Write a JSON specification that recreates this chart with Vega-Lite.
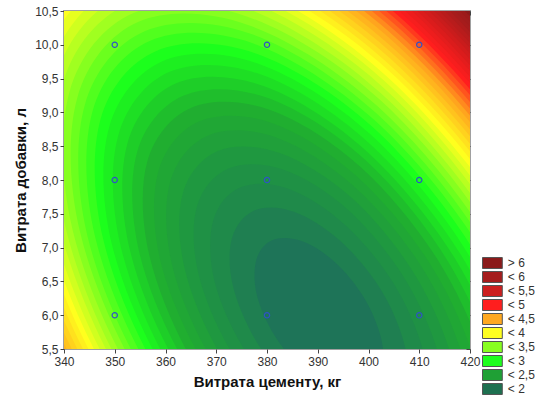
{
"$schema": "https://vega.github.io/schema/vega-lite/v6.json",
"width": 406, "height": 338,
"autosize": {"type": "none"},
"padding": {"left": 64, "top": 11, "right": 68, "bottom": 49},
"background": "white",
"config": {
 "view": {"stroke": "#a0a0a0", "strokeWidth": 2},
 "font": "Liberation Sans",
 "axis": {"grid": false, "domain": false, "tickColor": "#444", "tickSize": 4, "labelFontSize": 12, "labelColor": "#333", "labelFont": "Liberation Sans", "titleFont": "Liberation Sans", "titleFontSize": 15, "titleFontWeight": "bold", "titleColor": "#111", "labelFlush": false, "labelOverlap": false},
 "legend": {"orient": "none", "legendX": 422.4, "legendY": 246, "symbolType": "M-1.8,-1H1.8V1H-1.8Z", "symbolSize": 121, "symbolStrokeColor": "#555", "symbolStrokeWidth": 1, "labelFontSize": 12, "labelColor": "#333", "labelFont": "Liberation Sans", "labelOffset": 9.4, "rowPadding": -2.8, "symbolOpacity": 1}
},
"datasets": {
 "bg": [{"band": "> 6"}],
 "pts": [{"x":350,"y":6},{"x":350,"y":8},{"x":350,"y":10},{"x":380,"y":6},{"x":380,"y":8},{"x":380,"y":10},{"x":410,"y":6},{"x":410,"y":8},{"x":410,"y":10}],
 "poly": [
{"lo":6.2,"x":447.0,"y":7.78},{"lo":6.2,"x":409.6,"y":11.19},{"lo":6.2,"x":367.1,"y":13.20},{"lo":6.2,"x":330.8,"y":13.28},{"lo":6.2,"x":310.4,"y":11.40},{"lo":6.2,"x":311.4,"y":8.06},{"lo":6.2,"x":333.5,"y":4.17},{"lo":6.2,"x":370.9,"y":0.76},{"lo":6.2,"x":413.4,"y":-1.25},{"lo":6.2,"x":449.7,"y":-1.32},{"lo":6.2,"x":470.1,"y":0.56},{"lo":6.2,"x":469.1,"y":3.89},
{"lo":6.1,"x":446.4,"y":7.76},{"lo":6.1,"x":409.4,"y":11.13},{"lo":6.1,"x":367.4,"y":13.12},{"lo":6.1,"x":331.4,"y":13.20},{"lo":6.1,"x":311.3,"y":11.34},{"lo":6.1,"x":312.3,"y":8.04},{"lo":6.1,"x":334.2,"y":4.19},{"lo":6.1,"x":371.1,"y":0.82},{"lo":6.1,"x":413.1,"y":-1.17},{"lo":6.1,"x":449.1,"y":-1.24},{"lo":6.1,"x":469.2,"y":0.62},{"lo":6.1,"x":468.2,"y":3.91},
{"lo":6.0,"x":445.7,"y":7.74},{"lo":6.0,"x":409.2,"y":11.07},{"lo":6.0,"x":367.6,"y":13.04},{"lo":6.0,"x":332.1,"y":13.11},{"lo":6.0,"x":312.2,"y":11.28},{"lo":6.0,"x":313.2,"y":8.02},{"lo":6.0,"x":334.8,"y":4.21},{"lo":6.0,"x":371.3,"y":0.88},{"lo":6.0,"x":412.9,"y":-1.08},{"lo":6.0,"x":448.4,"y":-1.16},{"lo":6.0,"x":468.3,"y":0.68},{"lo":6.0,"x":467.4,"y":3.94},
{"lo":5.9,"x":445.1,"y":7.72},{"lo":5.9,"x":409.0,"y":11.01},{"lo":5.9,"x":367.9,"y":12.96},{"lo":5.9,"x":332.8,"y":13.03},{"lo":5.9,"x":313.1,"y":11.21},{"lo":5.9,"x":314.1,"y":7.99},{"lo":5.9,"x":335.5,"y":4.23},{"lo":5.9,"x":371.5,"y":0.94},{"lo":5.9,"x":412.6,"y":-1.00},{"lo":5.9,"x":447.7,"y":-1.07},{"lo":5.9,"x":467.4,"y":0.74},{"lo":5.9,"x":466.5,"y":3.96},
{"lo":5.8,"x":444.4,"y":7.70},{"lo":5.8,"x":408.8,"y":10.95},{"lo":5.8,"x":368.2,"y":12.87},{"lo":5.8,"x":333.5,"y":12.95},{"lo":5.8,"x":314.0,"y":11.15},{"lo":5.8,"x":315.0,"y":7.97},{"lo":5.8,"x":336.1,"y":4.25},{"lo":5.8,"x":371.7,"y":1.00},{"lo":5.8,"x":412.4,"y":-0.92},{"lo":5.8,"x":447.0,"y":-0.99},{"lo":5.8,"x":466.5,"y":0.81},{"lo":5.8,"x":465.5,"y":3.99},
{"lo":5.7,"x":443.7,"y":7.68},{"lo":5.7,"x":408.5,"y":10.89},{"lo":5.7,"x":368.4,"y":12.79},{"lo":5.7,"x":334.2,"y":12.86},{"lo":5.7,"x":314.9,"y":11.09},{"lo":5.7,"x":315.9,"y":7.95},{"lo":5.7,"x":336.8,"y":4.28},{"lo":5.7,"x":372.0,"y":1.06},{"lo":5.7,"x":412.1,"y":-0.83},{"lo":5.7,"x":446.3,"y":-0.90},{"lo":5.7,"x":465.6,"y":0.87},{"lo":5.7,"x":464.6,"y":4.01},
{"lo":5.6,"x":443.1,"y":7.66},{"lo":5.6,"x":408.3,"y":10.83},{"lo":5.6,"x":368.7,"y":12.70},{"lo":5.6,"x":334.9,"y":12.77},{"lo":5.6,"x":315.9,"y":11.02},{"lo":5.6,"x":316.8,"y":7.92},{"lo":5.6,"x":337.4,"y":4.30},{"lo":5.6,"x":372.2,"y":1.12},{"lo":5.6,"x":411.8,"y":-0.75},{"lo":5.6,"x":445.6,"y":-0.82},{"lo":5.6,"x":464.6,"y":0.93},{"lo":5.6,"x":463.7,"y":4.04},
{"lo":5.5,"x":442.4,"y":7.64},{"lo":5.5,"x":408.1,"y":10.77},{"lo":5.5,"x":369.0,"y":12.62},{"lo":5.5,"x":335.6,"y":12.69},{"lo":5.5,"x":316.9,"y":10.96},{"lo":5.5,"x":317.8,"y":7.90},{"lo":5.5,"x":338.1,"y":4.32},{"lo":5.5,"x":372.4,"y":1.19},{"lo":5.5,"x":411.5,"y":-0.66},{"lo":5.5,"x":444.9,"y":-0.73},{"lo":5.5,"x":463.7,"y":1.00},{"lo":5.5,"x":462.7,"y":4.06},
{"lo":5.4,"x":441.7,"y":7.62},{"lo":5.4,"x":407.8,"y":10.71},{"lo":5.4,"x":369.3,"y":12.53},{"lo":5.4,"x":336.3,"y":12.60},{"lo":5.4,"x":317.8,"y":10.89},{"lo":5.4,"x":318.7,"y":7.87},{"lo":5.4,"x":338.8,"y":4.34},{"lo":5.4,"x":372.7,"y":1.25},{"lo":5.4,"x":411.2,"y":-0.57},{"lo":5.4,"x":444.2,"y":-0.64},{"lo":5.4,"x":462.7,"y":1.06},{"lo":5.4,"x":461.8,"y":4.09},
{"lo":5.3,"x":441.0,"y":7.59},{"lo":5.3,"x":407.6,"y":10.64},{"lo":5.3,"x":369.6,"y":12.44},{"lo":5.3,"x":337.1,"y":12.51},{"lo":5.3,"x":318.8,"y":10.83},{"lo":5.3,"x":319.7,"y":7.84},{"lo":5.3,"x":339.5,"y":4.36},{"lo":5.3,"x":372.9,"y":1.31},{"lo":5.3,"x":411.0,"y":-0.48},{"lo":5.3,"x":443.5,"y":-0.55},{"lo":5.3,"x":461.7,"y":1.13},{"lo":5.3,"x":460.8,"y":4.11},
{"lo":5.2,"x":440.3,"y":7.57},{"lo":5.2,"x":407.4,"y":10.58},{"lo":5.2,"x":369.8,"y":12.35},{"lo":5.2,"x":337.8,"y":12.42},{"lo":5.2,"x":319.8,"y":10.76},{"lo":5.2,"x":320.7,"y":7.82},{"lo":5.2,"x":340.2,"y":4.39},{"lo":5.2,"x":373.2,"y":1.38},{"lo":5.2,"x":410.7,"y":-0.39},{"lo":5.2,"x":442.7,"y":-0.46},{"lo":5.2,"x":460.7,"y":1.20},{"lo":5.2,"x":459.8,"y":4.14},
{"lo":5.1,"x":439.6,"y":7.55},{"lo":5.1,"x":407.1,"y":10.51},{"lo":5.1,"x":370.1,"y":12.26},{"lo":5.1,"x":338.5,"y":12.32},{"lo":5.1,"x":320.8,"y":10.69},{"lo":5.1,"x":321.7,"y":7.79},{"lo":5.1,"x":340.9,"y":4.41},{"lo":5.1,"x":373.4,"y":1.45},{"lo":5.1,"x":410.4,"y":-0.30},{"lo":5.1,"x":442.0,"y":-0.37},{"lo":5.1,"x":459.7,"y":1.27},{"lo":5.1,"x":458.8,"y":4.16},
{"lo":5.0,"x":438.9,"y":7.52},{"lo":5.0,"x":406.9,"y":10.44},{"lo":5.0,"x":370.4,"y":12.17},{"lo":5.0,"x":339.3,"y":12.23},{"lo":5.0,"x":321.8,"y":10.62},{"lo":5.0,"x":322.7,"y":7.77},{"lo":5.0,"x":341.7,"y":4.43},{"lo":5.0,"x":373.6,"y":1.51},{"lo":5.0,"x":410.1,"y":-0.21},{"lo":5.0,"x":441.2,"y":-0.28},{"lo":5.0,"x":458.7,"y":1.34},{"lo":5.0,"x":457.8,"y":4.19},
{"lo":4.9,"x":438.1,"y":7.50},{"lo":4.9,"x":406.6,"y":10.38},{"lo":4.9,"x":370.7,"y":12.07},{"lo":4.9,"x":340.1,"y":12.14},{"lo":4.9,"x":322.9,"y":10.55},{"lo":4.9,"x":323.7,"y":7.74},{"lo":4.9,"x":342.4,"y":4.45},{"lo":4.9,"x":373.9,"y":1.58},{"lo":4.9,"x":409.8,"y":-0.12},{"lo":4.9,"x":440.4,"y":-0.18},{"lo":4.9,"x":457.6,"y":1.41},{"lo":4.9,"x":456.8,"y":4.22},
{"lo":4.8,"x":437.4,"y":7.48},{"lo":4.8,"x":406.4,"y":10.31},{"lo":4.8,"x":371.0,"y":11.98},{"lo":4.8,"x":340.9,"y":12.04},{"lo":4.8,"x":323.9,"y":10.48},{"lo":4.8,"x":324.8,"y":7.71},{"lo":4.8,"x":343.2,"y":4.48},{"lo":4.8,"x":374.2,"y":1.65},{"lo":4.8,"x":409.5,"y":-0.02},{"lo":4.8,"x":439.6,"y":-0.08},{"lo":4.8,"x":456.6,"y":1.48},{"lo":4.8,"x":455.7,"y":4.25},
{"lo":4.7,"x":436.6,"y":7.45},{"lo":4.7,"x":406.1,"y":10.24},{"lo":4.7,"x":371.4,"y":11.88},{"lo":4.7,"x":341.7,"y":11.94},{"lo":4.7,"x":325.0,"y":10.40},{"lo":4.7,"x":325.8,"y":7.68},{"lo":4.7,"x":343.9,"y":4.50},{"lo":4.7,"x":374.4,"y":1.72},{"lo":4.7,"x":409.2,"y":0.08},{"lo":4.7,"x":438.8,"y":0.02},{"lo":4.7,"x":455.5,"y":1.55},{"lo":4.7,"x":454.7,"y":4.27},
{"lo":4.6,"x":435.8,"y":7.43},{"lo":4.6,"x":405.8,"y":10.17},{"lo":4.6,"x":371.7,"y":11.78},{"lo":4.6,"x":342.5,"y":11.84},{"lo":4.6,"x":326.1,"y":10.33},{"lo":4.6,"x":326.9,"y":7.65},{"lo":4.6,"x":344.7,"y":4.53},{"lo":4.6,"x":374.7,"y":1.79},{"lo":4.6,"x":408.8,"y":0.18},{"lo":4.6,"x":438.0,"y":0.12},{"lo":4.6,"x":454.4,"y":1.63},{"lo":4.6,"x":453.6,"y":4.30},
{"lo":4.5,"x":435.0,"y":7.40},{"lo":4.5,"x":405.6,"y":10.09},{"lo":4.5,"x":372.0,"y":11.68},{"lo":4.5,"x":343.3,"y":11.74},{"lo":4.5,"x":327.2,"y":10.25},{"lo":4.5,"x":328.0,"y":7.62},{"lo":4.5,"x":345.5,"y":4.55},{"lo":4.5,"x":375.0,"y":1.86},{"lo":4.5,"x":408.5,"y":0.28},{"lo":4.5,"x":437.2,"y":0.22},{"lo":4.5,"x":453.3,"y":1.70},{"lo":4.5,"x":452.5,"y":4.33},
{"lo":4.4,"x":434.2,"y":7.38},{"lo":4.4,"x":405.3,"y":10.02},{"lo":4.4,"x":372.3,"y":11.58},{"lo":4.4,"x":344.2,"y":11.64},{"lo":4.4,"x":328.4,"y":10.18},{"lo":4.4,"x":329.1,"y":7.60},{"lo":4.4,"x":346.3,"y":4.58},{"lo":4.4,"x":375.2,"y":1.94},{"lo":4.4,"x":408.2,"y":0.38},{"lo":4.4,"x":436.4,"y":0.32},{"lo":4.4,"x":452.2,"y":1.78},{"lo":4.4,"x":451.4,"y":4.36},
{"lo":4.3,"x":433.4,"y":7.35},{"lo":4.3,"x":405.0,"y":9.94},{"lo":4.3,"x":372.7,"y":11.47},{"lo":4.3,"x":345.0,"y":11.53},{"lo":4.3,"x":329.5,"y":10.10},{"lo":4.3,"x":330.3,"y":7.56},{"lo":4.3,"x":347.1,"y":4.60},{"lo":4.3,"x":375.5,"y":2.01},{"lo":4.3,"x":407.9,"y":0.48},{"lo":4.3,"x":435.5,"y":0.43},{"lo":4.3,"x":451.0,"y":1.86},{"lo":4.3,"x":450.2,"y":4.39},
{"lo":4.2,"x":432.6,"y":7.32},{"lo":4.2,"x":404.7,"y":9.87},{"lo":4.2,"x":373.0,"y":11.37},{"lo":4.2,"x":345.9,"y":11.42},{"lo":4.2,"x":330.7,"y":10.02},{"lo":4.2,"x":331.4,"y":7.53},{"lo":4.2,"x":347.9,"y":4.63},{"lo":4.2,"x":375.8,"y":2.09},{"lo":4.2,"x":407.5,"y":0.59},{"lo":4.2,"x":434.6,"y":0.53},{"lo":4.2,"x":449.8,"y":1.94},{"lo":4.2,"x":449.1,"y":4.42},
{"lo":4.1,"x":431.7,"y":7.30},{"lo":4.1,"x":404.4,"y":9.79},{"lo":4.1,"x":373.3,"y":11.26},{"lo":4.1,"x":346.8,"y":11.31},{"lo":4.1,"x":331.9,"y":9.94},{"lo":4.1,"x":332.6,"y":7.50},{"lo":4.1,"x":348.8,"y":4.66},{"lo":4.1,"x":376.1,"y":2.17},{"lo":4.1,"x":407.2,"y":0.70},{"lo":4.1,"x":433.7,"y":0.64},{"lo":4.1,"x":448.6,"y":2.02},{"lo":4.1,"x":447.9,"y":4.45},
{"lo":4.0,"x":430.9,"y":7.27},{"lo":4.0,"x":404.1,"y":9.71},{"lo":4.0,"x":373.7,"y":11.15},{"lo":4.0,"x":347.7,"y":11.20},{"lo":4.0,"x":333.1,"y":9.86},{"lo":4.0,"x":333.8,"y":7.47},{"lo":4.0,"x":349.7,"y":4.69},{"lo":4.0,"x":376.4,"y":2.25},{"lo":4.0,"x":406.8,"y":0.81},{"lo":4.0,"x":432.8,"y":0.75},{"lo":4.0,"x":447.4,"y":2.10},{"lo":4.0,"x":446.7,"y":4.49},
{"lo":3.9,"x":430.0,"y":7.24},{"lo":3.9,"x":403.8,"y":9.63},{"lo":3.9,"x":374.1,"y":11.03},{"lo":3.9,"x":348.6,"y":11.09},{"lo":3.9,"x":334.4,"y":9.77},{"lo":3.9,"x":335.1,"y":7.44},{"lo":3.9,"x":350.6,"y":4.71},{"lo":3.9,"x":376.7,"y":2.33},{"lo":3.9,"x":406.5,"y":0.92},{"lo":3.9,"x":431.9,"y":0.87},{"lo":3.9,"x":446.2,"y":2.19},{"lo":3.9,"x":445.5,"y":4.52},
{"lo":3.8,"x":429.1,"y":7.21},{"lo":3.8,"x":403.5,"y":9.54},{"lo":3.8,"x":374.4,"y":10.92},{"lo":3.8,"x":349.6,"y":10.97},{"lo":3.8,"x":335.6,"y":9.68},{"lo":3.8,"x":336.3,"y":7.40},{"lo":3.8,"x":351.5,"y":4.74},{"lo":3.8,"x":377.0,"y":2.41},{"lo":3.8,"x":406.1,"y":1.04},{"lo":3.8,"x":430.9,"y":0.99},{"lo":3.8,"x":444.9,"y":2.27},{"lo":3.8,"x":444.2,"y":4.55},
{"lo":3.7,"x":428.1,"y":7.18},{"lo":3.7,"x":403.2,"y":9.46},{"lo":3.7,"x":374.8,"y":10.80},{"lo":3.7,"x":350.6,"y":10.85},{"lo":3.7,"x":337.0,"y":9.59},{"lo":3.7,"x":337.6,"y":7.37},{"lo":3.7,"x":352.4,"y":4.77},{"lo":3.7,"x":377.3,"y":2.50},{"lo":3.7,"x":405.7,"y":1.16},{"lo":3.7,"x":430.0,"y":1.11},{"lo":3.7,"x":443.6,"y":2.36},{"lo":3.7,"x":442.9,"y":4.59},
{"lo":3.6,"x":427.2,"y":7.15},{"lo":3.6,"x":402.9,"y":9.37},{"lo":3.6,"x":375.2,"y":10.68},{"lo":3.6,"x":351.6,"y":10.73},{"lo":3.6,"x":338.3,"y":9.50},{"lo":3.6,"x":339.0,"y":7.34},{"lo":3.6,"x":353.4,"y":4.80},{"lo":3.6,"x":377.6,"y":2.59},{"lo":3.6,"x":405.3,"y":1.28},{"lo":3.6,"x":429.0,"y":1.23},{"lo":3.6,"x":442.2,"y":2.45},{"lo":3.6,"x":441.6,"y":4.62},
{"lo":3.5,"x":426.2,"y":7.12},{"lo":3.5,"x":402.5,"y":9.28},{"lo":3.5,"x":375.6,"y":10.55},{"lo":3.5,"x":352.6,"y":10.60},{"lo":3.5,"x":339.7,"y":9.41},{"lo":3.5,"x":340.3,"y":7.30},{"lo":3.5,"x":354.3,"y":4.83},{"lo":3.5,"x":378.0,"y":2.68},{"lo":3.5,"x":404.9,"y":1.40},{"lo":3.5,"x":427.9,"y":1.36},{"lo":3.5,"x":440.8,"y":2.55},{"lo":3.5,"x":440.2,"y":4.66},
{"lo":3.4,"x":425.2,"y":7.09},{"lo":3.4,"x":402.2,"y":9.19},{"lo":3.4,"x":376.0,"y":10.42},{"lo":3.4,"x":353.7,"y":10.47},{"lo":3.4,"x":341.1,"y":9.31},{"lo":3.4,"x":341.7,"y":7.26},{"lo":3.4,"x":355.3,"y":4.87},{"lo":3.4,"x":378.3,"y":2.77},{"lo":3.4,"x":404.5,"y":1.53},{"lo":3.4,"x":426.9,"y":1.48},{"lo":3.4,"x":439.4,"y":2.64},{"lo":3.4,"x":438.8,"y":4.69},
{"lo":3.3,"x":424.1,"y":7.06},{"lo":3.3,"x":401.8,"y":9.09},{"lo":3.3,"x":376.4,"y":10.29},{"lo":3.3,"x":354.7,"y":10.34},{"lo":3.3,"x":342.6,"y":9.21},{"lo":3.3,"x":343.2,"y":7.22},{"lo":3.3,"x":356.4,"y":4.90},{"lo":3.3,"x":378.7,"y":2.86},{"lo":3.3,"x":404.1,"y":1.66},{"lo":3.3,"x":425.8,"y":1.62},{"lo":3.3,"x":438.0,"y":2.74},{"lo":3.3,"x":437.4,"y":4.73},
{"lo":3.2,"x":423.1,"y":7.02},{"lo":3.2,"x":401.5,"y":8.99},{"lo":3.2,"x":376.9,"y":10.16},{"lo":3.2,"x":355.9,"y":10.20},{"lo":3.2,"x":344.1,"y":9.11},{"lo":3.2,"x":344.6,"y":7.18},{"lo":3.2,"x":357.4,"y":4.93},{"lo":3.2,"x":379.0,"y":2.96},{"lo":3.2,"x":403.6,"y":1.80},{"lo":3.2,"x":424.7,"y":1.76},{"lo":3.2,"x":436.5,"y":2.84},{"lo":3.2,"x":435.9,"y":4.77},
{"lo":3.1,"x":422.0,"y":6.99},{"lo":3.1,"x":401.1,"y":8.89},{"lo":3.1,"x":377.3,"y":10.02},{"lo":3.1,"x":357.0,"y":10.06},{"lo":3.1,"x":345.6,"y":9.01},{"lo":3.1,"x":346.2,"y":7.14},{"lo":3.1,"x":358.6,"y":4.97},{"lo":3.1,"x":379.4,"y":3.06},{"lo":3.1,"x":403.2,"y":1.94},{"lo":3.1,"x":423.5,"y":1.90},{"lo":3.1,"x":434.9,"y":2.95},{"lo":3.1,"x":434.3,"y":4.81},
{"lo":3.0,"x":420.8,"y":6.95},{"lo":3.0,"x":400.7,"y":8.79},{"lo":3.0,"x":377.8,"y":9.87},{"lo":3.0,"x":358.2,"y":9.91},{"lo":3.0,"x":347.2,"y":8.90},{"lo":3.0,"x":347.8,"y":7.10},{"lo":3.0,"x":359.7,"y":5.01},{"lo":3.0,"x":379.8,"y":3.17},{"lo":3.0,"x":402.7,"y":2.09},{"lo":3.0,"x":422.3,"y":2.05},{"lo":3.0,"x":433.3,"y":3.06},{"lo":3.0,"x":432.7,"y":4.85},
{"lo":2.9,"x":419.6,"y":6.91},{"lo":2.9,"x":400.3,"y":8.68},{"lo":2.9,"x":378.3,"y":9.72},{"lo":2.9,"x":359.5,"y":9.76},{"lo":2.9,"x":348.9,"y":8.78},{"lo":2.9,"x":349.4,"y":7.06},{"lo":2.9,"x":360.9,"y":5.04},{"lo":2.9,"x":380.2,"y":3.28},{"lo":2.9,"x":402.2,"y":2.24},{"lo":2.9,"x":421.0,"y":2.20},{"lo":2.9,"x":431.6,"y":3.17},{"lo":2.9,"x":431.1,"y":4.90},
{"lo":2.8,"x":418.4,"y":6.87},{"lo":2.8,"x":399.9,"y":8.56},{"lo":2.8,"x":378.8,"y":9.56},{"lo":2.8,"x":360.8,"y":9.60},{"lo":2.8,"x":350.7,"y":8.66},{"lo":2.8,"x":351.2,"y":7.01},{"lo":2.8,"x":362.1,"y":5.08},{"lo":2.8,"x":380.6,"y":3.39},{"lo":2.8,"x":401.7,"y":2.40},{"lo":2.8,"x":419.7,"y":2.36},{"lo":2.8,"x":429.9,"y":3.29},{"lo":2.8,"x":429.4,"y":4.94},
{"lo":2.7,"x":417.1,"y":6.83},{"lo":2.7,"x":399.4,"y":8.44},{"lo":2.7,"x":379.3,"y":9.39},{"lo":2.7,"x":362.1,"y":9.43},{"lo":2.7,"x":352.5,"y":8.54},{"lo":2.7,"x":353.0,"y":6.96},{"lo":2.7,"x":363.4,"y":5.12},{"lo":2.7,"x":381.1,"y":3.51},{"lo":2.7,"x":401.2,"y":2.56},{"lo":2.7,"x":418.4,"y":2.53},{"lo":2.7,"x":428.0,"y":3.42},{"lo":2.7,"x":427.6,"y":4.99},
{"lo":2.6,"x":415.7,"y":6.79},{"lo":2.6,"x":399.0,"y":8.32},{"lo":2.6,"x":379.9,"y":9.22},{"lo":2.6,"x":363.6,"y":9.25},{"lo":2.6,"x":354.4,"y":8.41},{"lo":2.6,"x":354.9,"y":6.91},{"lo":2.6,"x":364.8,"y":5.17},{"lo":2.6,"x":381.6,"y":3.64},{"lo":2.6,"x":400.6,"y":2.74},{"lo":2.6,"x":417.0,"y":2.70},{"lo":2.6,"x":426.1,"y":3.55},{"lo":2.6,"x":425.7,"y":5.04},
{"lo":2.5,"x":414.3,"y":6.74},{"lo":2.5,"x":398.5,"y":8.19},{"lo":2.5,"x":380.5,"y":9.04},{"lo":2.5,"x":365.1,"y":9.07},{"lo":2.5,"x":356.4,"y":8.27},{"lo":2.5,"x":356.9,"y":6.86},{"lo":2.5,"x":366.2,"y":5.21},{"lo":2.5,"x":382.0,"y":3.77},{"lo":2.5,"x":400.1,"y":2.92},{"lo":2.5,"x":415.4,"y":2.89},{"lo":2.5,"x":424.1,"y":3.68},{"lo":2.5,"x":423.7,"y":5.09},
{"lo":2.4,"x":412.7,"y":6.69},{"lo":2.4,"x":397.9,"y":8.04},{"lo":2.4,"x":381.1,"y":8.84},{"lo":2.4,"x":366.7,"y":8.87},{"lo":2.4,"x":358.6,"y":8.13},{"lo":2.4,"x":359.0,"y":6.80},{"lo":2.4,"x":367.8,"y":5.26},{"lo":2.4,"x":382.6,"y":3.91},{"lo":2.4,"x":399.4,"y":3.11},{"lo":2.4,"x":413.8,"y":3.08},{"lo":2.4,"x":421.9,"y":3.83},{"lo":2.4,"x":421.5,"y":5.15},
{"lo":2.3,"x":411.1,"y":6.64},{"lo":2.3,"x":397.4,"y":7.89},{"lo":2.3,"x":381.8,"y":8.63},{"lo":2.3,"x":368.4,"y":8.66},{"lo":2.3,"x":360.9,"y":7.97},{"lo":2.3,"x":361.3,"y":6.74},{"lo":2.3,"x":369.4,"y":5.31},{"lo":2.3,"x":383.1,"y":4.06},{"lo":2.3,"x":398.8,"y":3.32},{"lo":2.3,"x":412.1,"y":3.30},{"lo":2.3,"x":419.6,"y":3.99},{"lo":2.3,"x":419.2,"y":5.21},
{"lo":2.2,"x":409.3,"y":6.58},{"lo":2.2,"x":396.8,"y":7.73},{"lo":2.2,"x":382.5,"y":8.40},{"lo":2.2,"x":370.3,"y":8.43},{"lo":2.2,"x":363.4,"y":7.80},{"lo":2.2,"x":363.8,"y":6.68},{"lo":2.2,"x":371.2,"y":5.37},{"lo":2.2,"x":383.7,"y":4.23},{"lo":2.2,"x":398.0,"y":3.55},{"lo":2.2,"x":410.2,"y":3.53},{"lo":2.2,"x":417.1,"y":4.16},{"lo":2.2,"x":416.7,"y":5.28},
{"lo":2.1,"x":407.3,"y":6.52},{"lo":2.1,"x":396.1,"y":7.55},{"lo":2.1,"x":383.3,"y":8.15},{"lo":2.1,"x":372.4,"y":8.17},{"lo":2.1,"x":366.2,"y":7.61},{"lo":2.1,"x":366.5,"y":6.61},{"lo":2.1,"x":373.2,"y":5.43},{"lo":2.1,"x":384.4,"y":4.41},{"lo":2.1,"x":397.2,"y":3.80},{"lo":2.1,"x":408.2,"y":3.78},{"lo":2.1,"x":414.3,"y":4.35},{"lo":2.1,"x":414.0,"y":5.35},
{"lo":2.0,"x":405.1,"y":6.45},{"lo":2.0,"x":395.3,"y":7.34},{"lo":2.0,"x":384.2,"y":7.87},{"lo":2.0,"x":374.7,"y":7.89},{"lo":2.0,"x":369.4,"y":7.40},{"lo":2.0,"x":369.6,"y":6.52},{"lo":2.0,"x":375.4,"y":5.51},{"lo":2.0,"x":385.2,"y":4.61},{"lo":2.0,"x":396.3,"y":4.09},{"lo":2.0,"x":405.8,"y":4.07},{"lo":2.0,"x":411.1,"y":4.56},{"lo":2.0,"x":410.9,"y":5.43},
{"lo":1.9,"x":402.5,"y":6.37},{"lo":1.9,"x":394.4,"y":7.10},{"lo":1.9,"x":385.3,"y":7.53},{"lo":1.9,"x":377.5,"y":7.55},{"lo":1.9,"x":373.1,"y":7.14},{"lo":1.9,"x":373.3,"y":6.43},{"lo":1.9,"x":378.1,"y":5.59},{"lo":1.9,"x":386.1,"y":4.86},{"lo":1.9,"x":395.2,"y":4.43},{"lo":1.9,"x":403.0,"y":4.41},{"lo":1.9,"x":407.4,"y":4.81},{"lo":1.9,"x":407.2,"y":5.53},
{"lo":1.8,"x":399.1,"y":6.26},{"lo":1.8,"x":393.3,"y":6.79},{"lo":1.8,"x":386.7,"y":7.10},{"lo":1.8,"x":381.0,"y":7.11},{"lo":1.8,"x":377.9,"y":6.82},{"lo":1.8,"x":378.0,"y":6.30},{"lo":1.8,"x":381.5,"y":5.70},{"lo":1.8,"x":387.3,"y":5.17},{"lo":1.8,"x":393.8,"y":4.86},{"lo":1.8,"x":399.5,"y":4.85},{"lo":1.8,"x":402.6,"y":5.14},{"lo":1.8,"x":402.5,"y":5.65}
 ]
},
"layer": [
 {
  "data": {"name": "bg"},
  "mark": {"type": "rect"},
  "encoding": {
   "fill": {"field": "band", "type": "nominal",
    "scale": {"domain": ["> 6","< 6","< 5,5","< 5","< 4,5","< 4","< 3,5","< 3","< 2,5","< 2"],
              "range": ["#8b1a1a","#a51c1c","#cc1f1f","#ff1e1e","#ffa820","#ffff20","#88ff20","#1eff1e","#1fa035","#1e7050"]},
    "legend": {"title": null}}
  }
 },
 {
  "data": {"name": "poly"},
  "mark": {"type": "line", "filled": true, "interpolate": "cardinal-closed", "clip": true},
  "encoding": {
   "x": {"field": "x", "type": "quantitative",
    "scale": {"domain": [340, 420], "nice": false, "zero": false},
    "axis": {"orient": "bottom", "values": [340,350,360,370,380,390,400,410,420], "format": "d", "title": "Витрата цементу, кг", "labelPadding": 3, "titlePadding": 7}},
   "y": {"field": "y", "type": "quantitative",
    "scale": {"domain": [5.5, 10.5], "nice": false, "zero": false},
    "axis": {"orient": "left", "values": [5.5,6,6.5,7,7.5,8,8.5,9,9.5,10,10.5], "labelExpr": "replace(format(datum.value, '.1f'), '.', ',')", "title": "Витрата добавки, л", "labelPadding": 2, "titlePadding": 6}},
   "color": {"field": "lo", "type": "quantitative",
    "scale": {"domain": [1.8,2.0,2.5,3.0,3.5,3.9,4.5,5.0,5.5,6.0,6.5],
              "range": ["#1e7458","#1f8a4a","#20ae30","#1cff1c","#a0ff20","#ffff1e","#ffa51e","#ff1e1e","#d21c1c","#a61c1c","#8c1a1a"],
              "interpolate": "rgb", "zero": false, "nice": false},
    "legend": null},
   "order": {"value": null}
  }
 },
 {
  "data": {"name": "pts"},
  "mark": {"type": "point", "shape": "circle", "filled": false, "color": "#2f52c8", "strokeWidth": 1.2, "size": 28, "opacity": 1},
  "encoding": {
   "x": {"field": "x", "type": "quantitative", "axis": {"orient": "top", "values": [340,350,360,370,380,390,400,410,420], "labels": false, "title": null, "tickSize": -4}},
   "y": {"field": "y", "type": "quantitative", "axis": {"orient": "right", "values": [5.5,6,6.5,7,7.5,8,8.5,9,9.5,10,10.5], "labels": false, "title": null, "tickSize": -4}}
  }
 }
]
}
